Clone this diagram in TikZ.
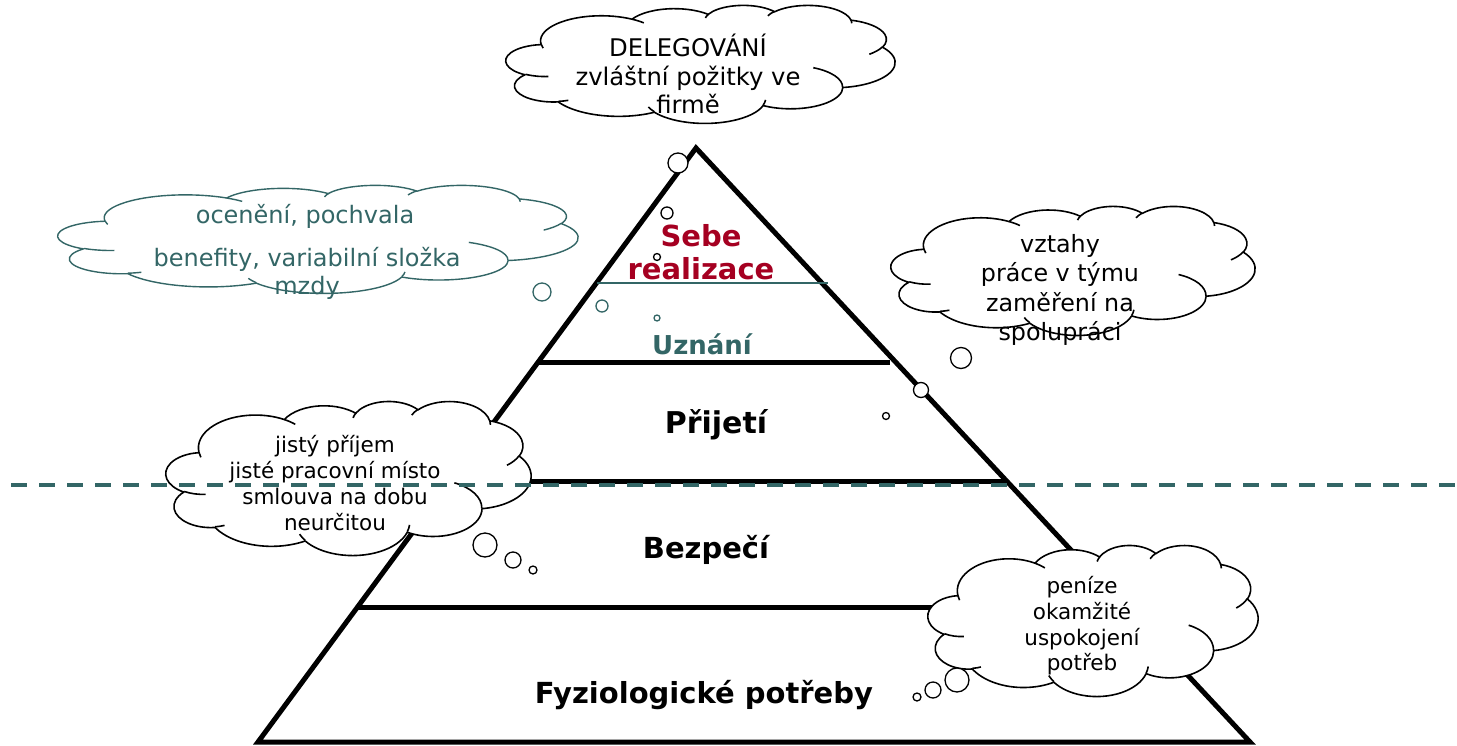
\documentclass[tikz,border=0pt]{standalone}
\usepackage{fontspec}
\setmainfont{DejaVu Sans}
\definecolor{teal}{RGB}{51,102,102}
\definecolor{crimson}{RGB}{165,0,33}

% A thought cloud in a frame with top-left corner (#1,#2), size #3 x #4,
% outline colour #5 and line width #6.  The outline is built from eleven
% elliptical arcs in a 43.2 x 43.2 grid; eleven short hooks sit inside it.
\newcommand\thoughtcloud[6]{%
  \pgfmathsetmacro\cloudsx{#3/43.2}%
  \pgfmathsetmacro\cloudsy{#4/43.2}%
  \begin{scope}[shift={(#1,#2)}, x=\cloudsx pt, y=-\cloudsy pt]
    \filldraw[fill=white, draw=#5, line width=#6, line join=round]
      (3.9,14.37) \foreach \w/\h/\st/\sw in {
        6.753/9.190/-190.4875/123.7805, 5.333/7.267/-144.1024/89.9452,
        4.365/5.945/-145.8079/99.7230,  4.857/6.595/-130.9861/117.2417,
        5.333/7.273/-78.7089/109.0269,  6.775/9.220/-46.2673/130.2690,
        5.785/7.867/0.6250/114.0333,    6.752/9.215/22.4516/115.1726,
        7.720/10.543/66.2426/75.7110,   4.360/5.918/-274.9421/146.7356,
        4.345/5.945/-246.8285/152.5189} {
        arc[start angle={pptang(\st,\w,\h)},
            delta angle={mod(pptang(\st+\sw,\w,\h)-pptang(\st,\w,\h)+720,360)},
            x radius=\w, y radius=\h]
      } -- cycle;
    \foreach \px/\py/\w/\h/\st/\sw in {
        4.693/26.177/4.345/5.945/86.742/26.4295,
        6.928/34.899/4.360/5.918/73.6105/11.4475,
        16.478/39.090/6.752/9.215/137.6242/14.0811,
        28.827/34.751/6.752/9.215/6.4533/15.9984,
        34.129/22.954/5.785/7.867/-70.2924/70.9174,
        41.798/15.354/5.333/7.273/30.318/27.7515,
        38.324/5.426/4.857/6.595/-13.7443/14.8589,
        29.078/3.952/4.857/6.595/-149.1815/18.1954,
        22.141/4.720/4.365/5.945/-163.4943/17.6864,
        14.000/5.192/6.753/9.190/-66.707/12.3194,
        4.127/15.789/6.753/9.190/157.6544/11.8582}
      \draw[draw=#5, line width=#6]
        (\px,\py) arc[start angle={pptang(\st,\w,\h)},
            delta angle={mod(pptang(\st+\sw,\w,\h)-pptang(\st,\w,\h)+720,360)},
            x radius=\w, y radius=\h];
  \end{scope}}

\begin{document}
\begin{tikzpicture}[x=1pt,y=-1pt,
  declare function={pptang(\a,\w,\h)=atan2(\w*sin(\a),\h*cos(\a));},
  bubble/.style={circle, draw=black, line width=1.3pt, fill=white, inner sep=0pt},
  tealbubble/.style={bubble, draw=teal},
  bigtxt/.style={align=center, font=\fontsize{24.3}{28.7}\selectfont},
  smalltxt/.style={align=center, font=\fontsize{21.5}{25.7}\selectfont},
  level/.style={font=\bfseries\fontsize{29}{33}\selectfont},
  pyr/.style={line width=5pt, line join=miter}
]
\useasboundingbox (0,0) rectangle (1457,745);

% pyramid outline and level lines
\coordinate (apex) at (696,148);
\coordinate (bl) at (258,742);
\coordinate (br) at (1250,742);
\draw[pyr] (bl) -- (apex) -- (br) -- cycle;
\coordinate (l1a) at (538,362);  \coordinate (l1b) at (890,362);
\coordinate (l2a) at (450,481);  \coordinate (l2b) at (1007,481);
\coordinate (l3a) at (357,607);  \coordinate (l3b) at (1124,607);
\coordinate (l0a) at (597,283);  \coordinate (l0b) at (828,283);
\draw[pyr] (l1a) -- (l1b);
\draw[pyr] (l2a) -- (l2b);
\draw[pyr] (l3a) -- (l3b);
\draw[teal, line width=1.8pt] (l0a) -- (l0b);

% level labels
\node[level, text=crimson, align=center] (sebe) at (701,252) {Sebe\\realizace};
\node[level, text=teal, font=\bfseries\fontsize{26}{30}\selectfont] (uznani) at (702,344) {Uznání};
\node[level, font=\bfseries\fontsize{30}{34}\selectfont] (prijeti) at (716,425) {Přijetí};
\node[level] (bezpeci) at (706,550) {Bezpečí};
\node[level] (fyzio) at (704,695) {Fyziologické potřeby};

% thought clouds
\thoughtcloud{506}{5}{389}{118}{black}{1.6pt}
\node[bigtxt] (t1) at (688,74) {DELEGOVÁNÍ\\zvláštní požitky ve\\firmě};

\thoughtcloud{58}{185}{520}{108}{teal}{1.4pt}
\node[bigtxt, text=teal, font=\fontsize{24}{43}\selectfont] (t2a) at (305,216) {ocenění, pochvala};
\node[bigtxt, text=teal, font=\fontsize{24}{28}\selectfont] (t2b) at (307,273) {benefity, variabilní složka\\mzdy};

\thoughtcloud{891}{206}{364}{129}{black}{1.6pt}
\node[bigtxt, font=\fontsize{23.8}{29.3}\selectfont] (t3) at (1060,290) {vztahy\\práce v týmu\\zaměření na\\spolupráci};

\thoughtcloud{166}{401}{365}{154}{black}{1.6pt}
\node[smalltxt] (t4) at (335,483) {jistý příjem\\jisté pracovní místo\\smlouva na dobu\\neurčitou};

\thoughtcloud{928}{545}{330}{151}{black}{1.6pt}
\node[smalltxt] (t5) at (1082,626) {peníze\\okamžité\\uspokojení\\potřeb};

% thought bubbles
\node[bubble, minimum size=20pt] (b1a) at (678,163) {};
\node[bubble, minimum size=12pt] (b1b) at (667,213) {};
\node[bubble, minimum size=7pt] (b1c) at (657,257) {};

\node[tealbubble, minimum size=18pt] (b2a) at (542,292) {};
\node[tealbubble, minimum size=12pt] (b2b) at (602,306) {};
\node[tealbubble, minimum size=6pt] (b2c) at (657,318) {};

\node[bubble, minimum size=21pt] (b3a) at (961,358) {};
\node[bubble, minimum size=15pt] (b3b) at (921,390) {};
\node[bubble, minimum size=7pt] (b3c) at (886,416) {};

\node[bubble, minimum size=24pt] (b4a) at (485,545) {};
\node[bubble, minimum size=16pt] (b4b) at (513,560) {};
\node[bubble, minimum size=8pt] (b4c) at (533,570) {};

\node[bubble, minimum size=24pt] (b5a) at (957,680) {};
\node[bubble, minimum size=16pt] (b5b) at (933,690) {};
\node[bubble, minimum size=8pt] (b5c) at (917,697) {};

% boundary line
\coordinate (d0) at (11,485);
\coordinate (d1) at (1457,485);
\draw[teal, line width=4pt, dash pattern=on 16pt off 12pt] (d0) -- (d1);
\end{tikzpicture}
\end{document}
